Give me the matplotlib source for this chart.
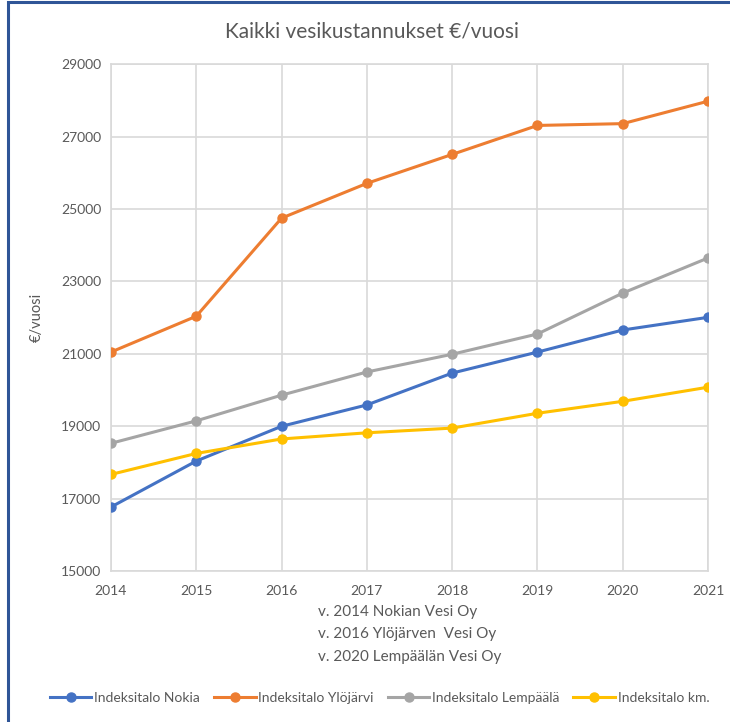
import matplotlib
matplotlib.use("Agg")
import matplotlib.pyplot as plt
from matplotlib.patches import Rectangle

years = [2014, 2015, 2016, 2017, 2018, 2019, 2020, 2021]
nokia = [16770, 18040, 19000, 19590, 20470, 21050, 21660, 22010]
ylojarvi = [21050, 22040, 24750, 25710, 26510, 27310, 27360, 27980]
lempaala = [18530, 19150, 19860, 20500, 20990, 21550, 22680, 23650]
km = [17670, 18250, 18650, 18820, 18950, 19360, 19690, 20080]

series = [
    ("Indeksitalo Nokia", nokia, "#4472C4"),
    ("Indeksitalo Ylöjärvi", ylojarvi, "#ED7D31"),
    ("Indeksitalo Lempäälä", lempaala, "#A5A5A5"),
    ("Indeksitalo km.", km, "#FFC000"),
]

plt.rcParams['font.family'] = ['Lato', 'DejaVu Sans']

fig = plt.figure(figsize=(7.3, 7.22), dpi=100)
ax = fig.add_axes([0.152, 0.209, 0.818, 0.702])

for name, vals, col in series:
    ax.plot(years, vals, color=col, lw=2.2, marker='o', ms=6.5, label=name, zorder=3)

ax.set_xlim(2014, 2021)
ax.set_ylim(15000, 29000)
ax.set_yticks(range(15000, 29001, 2000))
ax.set_xticks(years)
ax.grid(True, color='#D9D9D9', lw=1.2)
ax.set_axisbelow(True)
for s in ax.spines.values():
    s.set_color('#D9D9D9')
    s.set_linewidth(1.2)
ax.tick_params(length=0, colors='#595959', labelsize=10)
ax.tick_params(axis='x', pad=10)
ax.tick_params(axis='y', pad=7)

ax.set_ylabel('€/vuosi', color='#595959', fontsize=10.5, labelpad=12)
ax.set_xlabel('v. 2014 Nokian Vesi Oy\nv. 2016 Ylöjärven  Vesi Oy\nv. 2020 Lempäälän Vesi Oy',
              color='#595959', fontsize=11, multialignment='left', linespacing=1.75)
ax.xaxis.set_label_coords(0.5, -0.067, transform=ax.transAxes)
ax.xaxis.label.set_va('top')

fig.text(0.51, 0.956, 'Kaikki vesikustannukset €/vuosi', ha='center', va='center',
         fontsize=15, color='#595959')

leg = fig.legend(loc='center', bbox_to_anchor=(0.52, 0.033), ncol=4, frameon=False,
                 fontsize=10, handlelength=3.0, columnspacing=1.0, handletextpad=0.2)
for t in leg.get_texts():
    t.set_color('#595959')

fig.patches.append(Rectangle((8/730, -0.01), 1.05, 1.01 - 1.5/722, transform=fig.transFigure,
                             fill=False, edgecolor='#2F5597', lw=2.2, zorder=10))

fig.savefig('out.png', dpi=100)
